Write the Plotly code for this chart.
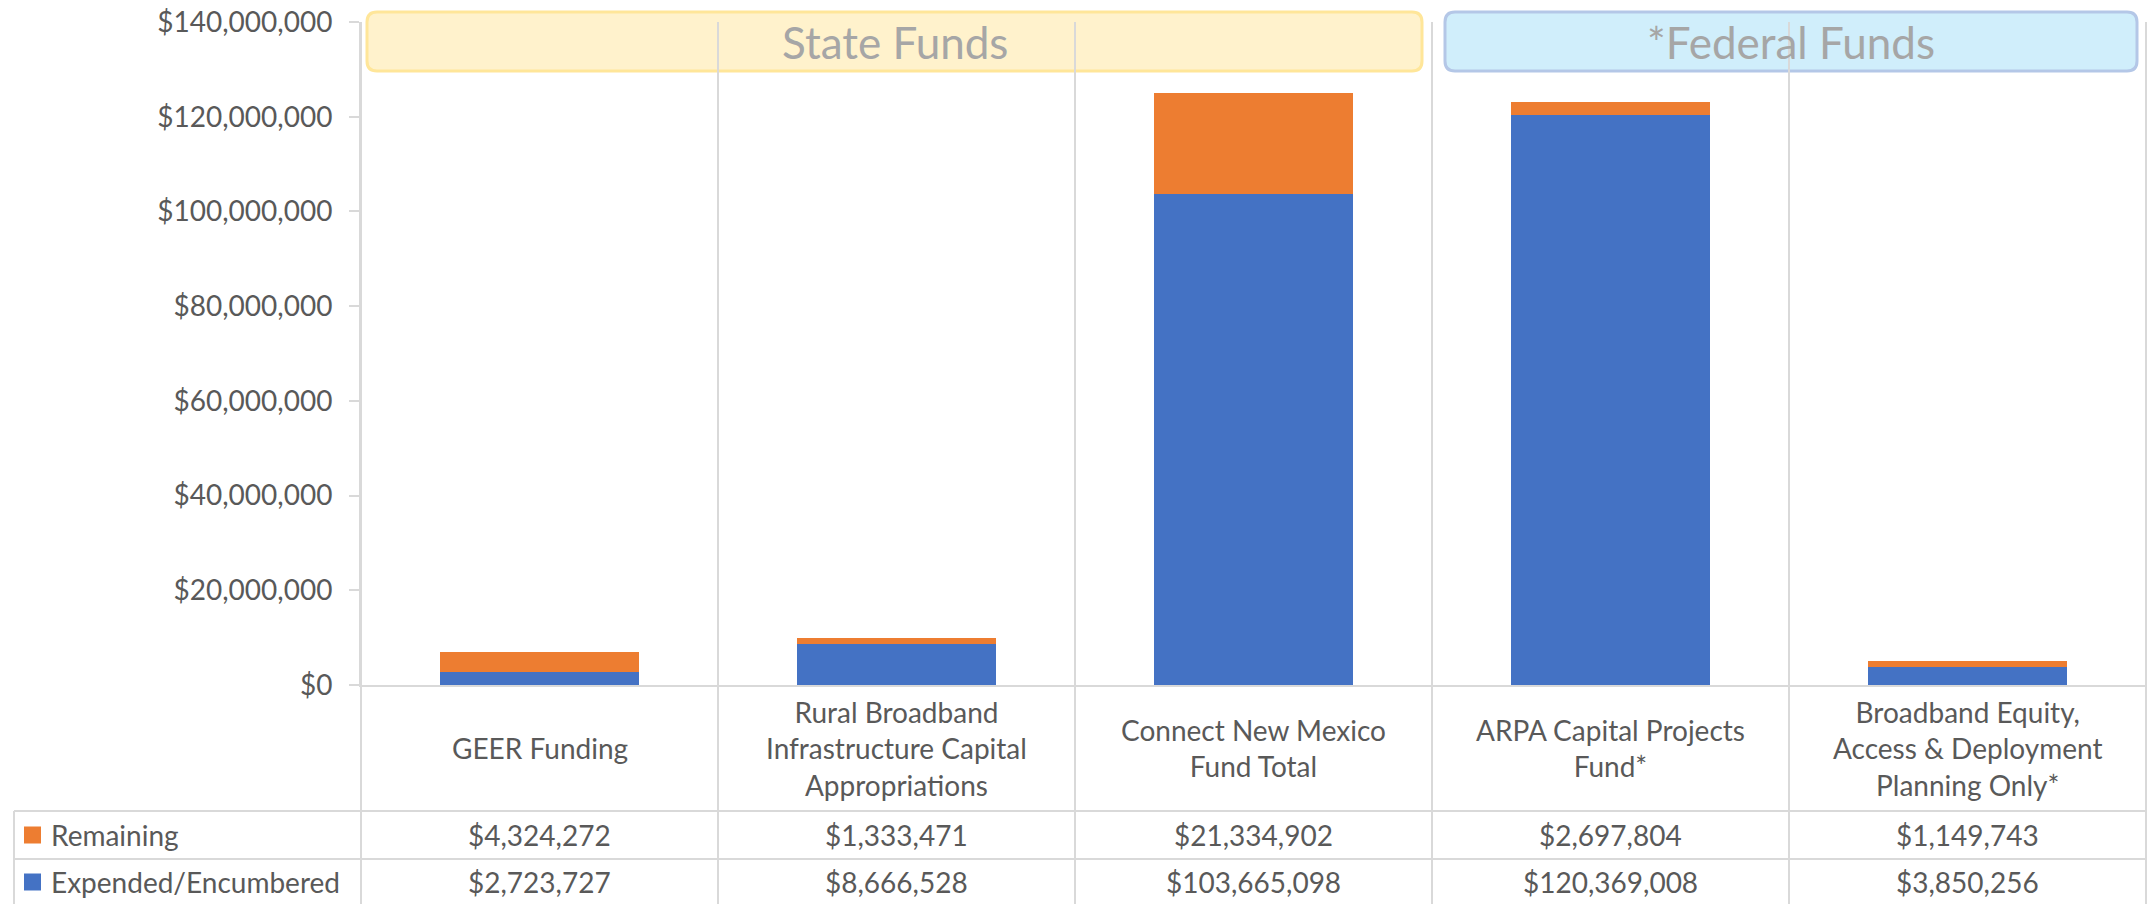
import plotly.graph_objects as go

# ---------------- data ----------------
categories = [
    "GEER Funding",
    "Rural Broadband<br>Infrastructure Capital<br>Appropriations",
    "Connect New Mexico<br>Fund Total",
    "ARPA Capital Projects<br>Fund*",
    "Broadband Equity,<br>Access & Deployment<br>Planning Only*",
]
expended = [2723727, 8666528, 103665098, 120369008, 3850256]
remaining = [4324272, 1333471, 21334902, 2697804, 1149743]
series_names = ["Remaining", "Expended/Encumbered"]
y_ticks = [0, 20000000, 40000000, 60000000, 80000000, 100000000, 120000000, 140000000]
y_tick_labels = ["$0", "$20,000,000", "$40,000,000", "$60,000,000", "$80,000,000",
                 "$100,000,000", "$120,000,000", "$140,000,000"]
group_labels = ["State Funds", "*Federal Funds"]

# ---------------- styling / layout ----------------
W, H = 2148, 904
L, R, T, B = 361, 2, 22, 219
PW, PH = W - L - R, H - T - B
FONT = "Lato"
TXT = "#595959"
GRID = "#D9D9D9"
BLUE = "#4472C4"
ORANGE = "#ED7D31"


def px_x(px):
    return (px - L) / PW


def px_y(py):
    return (H - B - py) / PH


fig = go.Figure()
fig.add_trace(go.Bar(x=categories, y=expended, name=series_names[1],
                     marker=dict(color=BLUE, line=dict(width=0))))
fig.add_trace(go.Bar(x=categories, y=remaining, name=series_names[0],
                     marker=dict(color=ORANGE, line=dict(width=0))))

shapes = []
annotations = []


def rounded(x0, y0, x1, y1, r, fill, line):
    X0, X1 = px_x(x0), px_x(x1)
    Y0, Y1 = px_y(y1), px_y(y0)  # bottom, top in paper
    rx, ry = r / PW, r / PH
    path = (f"M {X0+rx},{Y0} L {X1-rx},{Y0} Q {X1},{Y0} {X1},{Y0+ry} "
            f"L {X1},{Y1-ry} Q {X1},{Y1} {X1-rx},{Y1} L {X0+rx},{Y1} "
            f"Q {X0},{Y1} {X0},{Y1-ry} L {X0},{Y0+ry} Q {X0},{Y0} {X0+rx},{Y0} Z")
    return dict(type="path", xref="paper", yref="paper", path=path,
                fillcolor=fill, line=dict(color=line, width=3), layer="below")


# group banners
banners = [(367, 12, 1422, 71, "#FFF2CC", "#FFE699"),
           (1445, 12, 2137, 71, "#D0EEFB", "#B4C7E7")]
for (x0, y0, x1, y1, fc, lc), lab in zip(banners, group_labels):
    shapes.append(rounded(x0, y0, x1, y1, 10, fc, lc))
    annotations.append(dict(xref="paper", yref="paper", x=px_x((x0 + x1) / 2),
                            y=px_y((y0 + y1) / 2), text=lab, showarrow=False,
                            xanchor="center", yanchor="middle",
                            font=dict(family=FONT, size=44, color="#A6A6A6")))

# vertical category dividers (through plot, labels and table)
n = len(categories)
for i in range(n + 1):
    shapes.append(dict(type="line", xref="paper", yref="paper",
                       x0=i / n, x1=i / n, y0=1, y1=px_y(H),
                       line=dict(color=GRID, width=2), layer="above"))

# table horizontal lines and left border
for yy in (811, 859):
    shapes.append(dict(type="line", xref="paper", yref="paper",
                       x0=px_x(14), x1=1, y0=px_y(yy), y1=px_y(yy),
                       line=dict(color=GRID, width=2)))
shapes.append(dict(type="line", xref="paper", yref="paper",
                   x0=px_x(14), x1=px_x(14), y0=px_y(811), y1=px_y(H),
                   line=dict(color=GRID, width=2)))

# category labels
for c in categories:
    annotations.append(dict(xref="x", yref="paper", x=c, y=px_y(748),
                            text=c, showarrow=False, xanchor="center", yanchor="middle",
                            font=dict(family=FONT, size=28, color=TXT)))

# table rows
rows = [(remaining, ORANGE, 835, series_names[0]),
        (expended, BLUE, 882, series_names[1])]
for vals, col, yc, name in rows:
    shapes.append(dict(type="rect", xref="paper", yref="paper",
                       x0=px_x(24), x1=px_x(41), y0=px_y(yc + 8.5), y1=px_y(yc - 8.5),
                       fillcolor=col, line=dict(width=0)))
    annotations.append(dict(xref="paper", yref="paper", x=px_x(49), y=px_y(yc),
                            text=name, showarrow=False, xanchor="left", yanchor="middle",
                            font=dict(family=FONT, size=28, color=TXT)))
    for c, v in zip(categories, vals):
        annotations.append(dict(xref="x", yref="paper", x=c, y=px_y(yc),
                                text=f"${v:,}", showarrow=False,
                                xanchor="center", yanchor="middle",
                                font=dict(family=FONT, size=28, color=TXT)))

fig.update_layout(
    width=W, height=H,
    margin=dict(l=L, r=R, t=T, b=B, pad=0),
    barmode="stack", bargap=0.443,
    plot_bgcolor="white", paper_bgcolor="white",
    showlegend=False,
    shapes=shapes, annotations=annotations,
    font=dict(family=FONT, color=TXT),
)
fig.update_xaxes(range=[-0.5, n - 0.5], showticklabels=False, showgrid=False,
                 showline=True, linecolor=GRID, linewidth=2, ticks="", zeroline=False)
fig.update_yaxes(range=[0, 140000000], tickvals=y_ticks, ticktext=y_tick_labels,
                 showgrid=False, zeroline=False,
                 showline=True, linecolor=GRID, linewidth=2,
                 ticks="outside", ticklen=10, tickcolor=GRID, tickwidth=2,
                 ticklabelstandoff=11,
                 tickfont=dict(family=FONT, size=28, color=TXT))

fig.write_html("out.html")
